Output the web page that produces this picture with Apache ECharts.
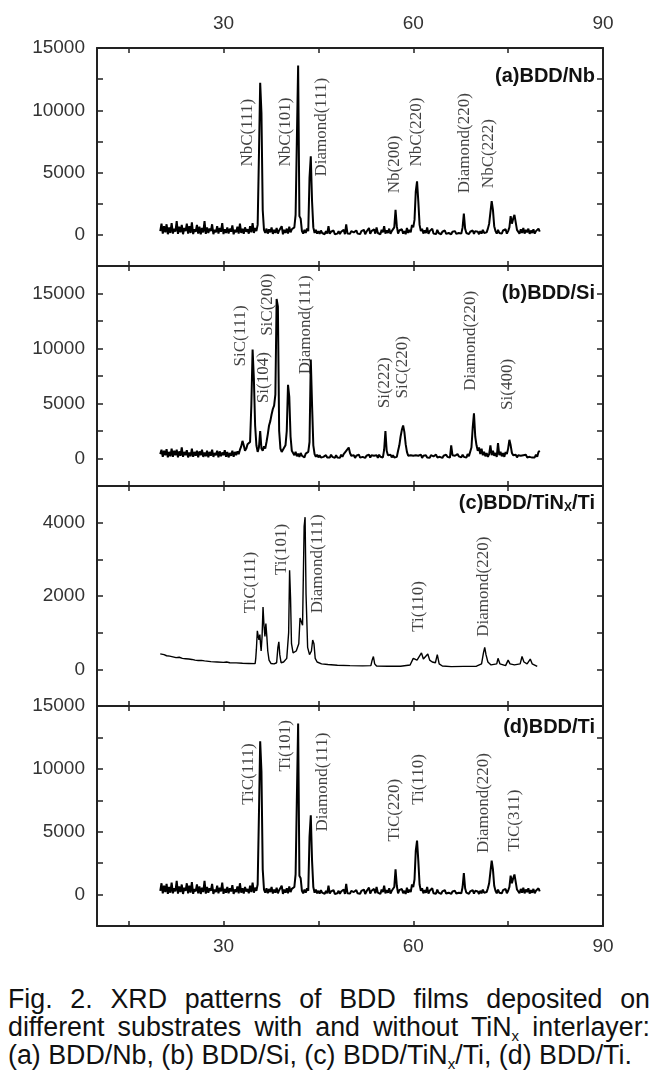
<!DOCTYPE html>
<html>
<head>
<meta charset="utf-8">
<script src="https://cdn.jsdelivr.net/npm/echarts@6/dist/echarts.min.js"></script>
<style>
html,body{margin:0;padding:0;background:#fff;width:657px;height:1076px;overflow:hidden}
#chart{position:absolute;left:0;top:0;width:657px;height:965px}
#caption{position:absolute;left:8px;top:985px;width:642px;font-family:'Liberation Sans',Arial,sans-serif;font-size:26.8px;line-height:28px;color:#111}
#caption div{text-align:justify;text-align-last:justify;white-space:nowrap}
#caption div.last{text-align:left;text-align-last:left}
#caption sub{font-size:15px;line-height:0;vertical-align:-5px}
</style>
</head>
<body>
<div id="chart"></div>
<div id="caption">
<div>Fig. 2. XRD patterns of BDD films deposited on</div>
<div>different substrates with and without TiN<sub>x</sub> interlayer:</div>
<div class="last">(a) BDD/Nb, (b) BDD/Si, (c) BDD/TiN<sub>x</sub>/Ti, (d) BDD/Ti.</div>
</div>
<script>
// ---- measurement grid (2theta, degrees): 20.0 .. 80.0 in 0.2 deg steps ----
const scanStart = 20.0;
const scanStep = 0.2;

// ---- (a) BDD/Nb counts, one value per scan step ----
const countsNb = [
  300, 900, 100, 700, 200, 850, 50, 600, 150, 950,
  100, 500, 250, 1100, 80, 650, 200, 800, 50, 550,
  300, 900, 100, 700, 150, 1000, 60, 450, 250, 800,
  100, 650, 50, 550, 200, 1100, 80, 600, 150, 500,
  300, 850, 50, 400, 200, 700, 100, 550, 250, 950,
  60, 450, 150, 600, 100, 500, 250, 750, 50, 400,
  200, 650, 100, 900, 150, 500, 80, 600, 250, 450,
  100, 700, 200, 950, 150, 550, 300, 800, 6300, 12200,
  9800, 2000, 400, 150, 500, 100, 450, 200, 600, 80,
  400, 150, 550, 100, 350, 250, 700, 50, 400, 150,
  500, 100, 650, 200, 450, 300, 600, 1600, 7700, 13600,
  1500, 1300, 300, 100, 400, 150, 500, 300, 4600, 6300,
  2700, 600, 150, 400, 100, 300, 80, 350, 150, 250,
  50, 300, 100, 700, 80, 250, 150, 350, 50, 200,
  100, 300, 60, 250, 150, 400, 50, 850, 100, 250,
  80, 300, 150, 200, 50, 350, 100, 250, 60, 300,
  150, 400, 50, 250, 100, 550, 80, 300, 150, 450,
  100, 600, 150, 300, 50, 400, 200, 700, 100, 350,
  150, 500, 80, 300, 200, 600, 2000, 700, 100, 350,
  200, 450, 100, 300, 50, 550, 150, 400, 200, 800,
  600, 1200, 3500, 4300, 2700, 800, 300, 500, 100, 350,
  150, 600, 80, 300, 200, 500, 100, 250, 60, 400,
  150, 300, 50, 250, 100, 350, 80, 200, 150, 300,
  50, 250, 100, 300, 80, 200, 150, 300, 100, 600,
  1700, 500, 150, 300, 60, 250, 100, 350, 80, 300,
  150, 250, 50, 300, 100, 400, 150, 300, 200, 500,
  900, 1800, 2700, 2000, 700, 300, 100, 400, 150, 300,
  100, 350, 200, 450, 100, 300, 600, 1500, 900, 1300,
  1600, 1500, 400, 250, 100, 450, 150, 550, 100, 400,
  200, 500, 80, 350, 150, 450, 100, 300, 200, 500,
  250
];

// ---- (b) BDD/Si counts ----
const countsSi = [
  400, 800, 150, 700, 300, 850, 100, 600, 200, 900,
  150, 700, 300, 800, 100, 650, 250, 1000, 150, 600,
  300, 750, 100, 550, 200, 900, 150, 600, 250, 700,
  100, 650, 300, 800, 150, 550, 200, 700, 100, 600,
  250, 800, 150, 500, 300, 700, 100, 650, 200, 550,
  300, 750, 150, 600, 100, 500, 250, 700, 150, 600,
  300, 650, 400, 800, 1100, 1600, 1200, 700, 900, 1300,
  1300, 1500, 4800, 9900, 7300, 3000, 1200, 600, 1000, 2500,
  900, 700, 1100, 900, 1500, 2200, 3000, 3400, 4000, 4500,
  4800, 5800, 14500, 13800, 2500, 900, 600, 800, 700, 1200,
  2500, 6700, 5600, 2000, 700, 500, 300, 600, 200, 450,
  150, 500, 250, 400, 100, 450, 300, 600, 1500, 9000,
  4900, 1200, 400, 150, 350, 100, 300, 80, 250, 150,
  50, 300, 100, 250, 80, 350, 150, 200, 50, 300,
  100, 250, 60, 350, 150, 400, 250, 700, 600, 1000,
  500, 250, 100, 300, 50, 250, 150, 350, 80, 200,
  150, 300, 50, 250, 100, 350, 80, 300, 150, 250,
  100, 300, 50, 350, 150, 250, 100, 800, 2500, 700,
  300, 150, 350, 100, 300, 80, 250, 150, 700, 1200,
  2000, 2600, 3000, 2400, 1300, 600, 250, 100, 300, 150,
  250, 80, 300, 150, 250, 100, 350, 50, 250, 150,
  300, 100, 250, 60, 300, 150, 200, 80, 350, 100,
  250, 150, 300, 50, 250, 100, 350, 150, 200, 80,
  1200, 300, 150, 250, 100, 400, 200, 300, 100, 350,
  150, 300, 80, 400, 200, 300, 1000, 2800, 4100, 2000,
  1200, 700, 1000, 400, 900, 300, 600, 200, 500, 150,
  400, 1200, 300, 700, 250, 500, 150, 1400, 300, 600,
  200, 500, 150, 600, 400, 900, 1700, 1200, 500, 300,
  150, 350, 100, 300, 200, 250, 80, 300, 150, 350,
  100, 250, 150, 300, 80, 250, 100, 350, 150, 600,
  700
];

// ---- (c) BDD/TiNx/Ti: [2theta, counts] ----
const pointsTiNx = [
  [20.0, 420], [20.3, 380], [20.6, 400], [21.0, 370], [21.5, 360], [22.0, 340], [22.5, 320],
  [23.0, 330], [23.5, 300], [24.0, 290], [24.5, 280], [25.0, 270], [25.5, 250], [26.0, 240],
  [26.5, 245], [27.0, 230], [28.0, 210], [29.0, 200], [30.0, 190], [30.5, 200], [31.0, 180],
  [32.0, 175], [33.0, 165], [34.0, 160], [35.0, 155], [35.1, 300], [35.2, 550], [35.35, 1050],
  [35.5, 900], [35.6, 800], [35.75, 950], [35.85, 700], [35.95, 500], [36.1, 900], [36.25, 1700],
  [36.4, 1200], [36.55, 900], [36.7, 1250], [36.85, 900], [37.0, 500], [37.2, 250], [37.5, 160],
  [38.0, 150], [38.4, 180], [38.6, 600], [38.75, 750], [38.9, 400], [39.1, 180], [39.5, 200],
  [40.0, 300], [40.3, 1000], [40.45, 2700], [40.6, 1950], [40.75, 700], [41.0, 450], [41.5, 500],
  [41.9, 700], [42.1, 1400], [42.3, 1300], [42.5, 1200], [42.75, 3900], [42.9, 4150], [43.05, 2050],
  [43.3, 600], [43.6, 400], [43.9, 500], [44.1, 800], [44.3, 700], [44.5, 300], [44.8, 200],
  [45.5, 150], [46.5, 130], [48.0, 110], [50.0, 100], [52.0, 95], [53.3, 100], [53.5, 250],
  [53.7, 350], [53.9, 150], [54.2, 90], [56.0, 85], [58.0, 85], [59.5, 120], [60.0, 300],
  [60.3, 350], [60.6, 250], [60.9, 300], [61.3, 450], [61.6, 280], [61.9, 250], [62.3, 420],
  [62.6, 250], [63.0, 200], [63.5, 180], [63.8, 400], [64.1, 150], [64.6, 90], [66.0, 75],
  [68.0, 80], [70.0, 85], [70.8, 150], [71.1, 450], [71.3, 600], [71.5, 400], [71.8, 200],
  [72.3, 120], [73.2, 150], [73.4, 300], [73.7, 150], [74.6, 100], [75.0, 250], [75.3, 150],
  [76.0, 120], [76.9, 150], [77.2, 350], [77.5, 200], [78.0, 150], [78.5, 280], [78.8, 150],
  [79.6, 80]
];

// ---- (d) BDD/Ti: the source figure shows the same trace as (a) ----
const countsTi = countsNb.slice();

// ---- peak labels: [text, 2theta, counts at start of the rotated label] ----
const peaksNb = [
  ['NbC(111)', 33.8, 5480], ['NbC(101)', 39.85, 5480], ['Diamond(111)', 45.5, 4680],
  ['Nb(200)', 57.0, 3340], ['NbC(220)', 60.5, 5480], ['Diamond(220)', 68.1, 3340],
  ['NbC(222)', 71.9, 3750]
];
const peaksSi = [
  ['SiC(111)', 32.7, 8360], ['Si(104)', 36.35, 5030], ['SiC(200)', 36.9, 11150],
  ['Diamond(111)', 42.95, 7660], ['Si(222)', 55.5, 4570], ['SiC(220)', 58.3, 5450],
  ['Diamond(220)', 69.1, 6150], ['Si(400)', 74.9, 4420]
];
const peaksTiNx = [
  ['TiC(111)', 34.2, 1530], ['Ti(101)', 39.1, 2570], ['Diamond(111)', 44.8, 1530],
  ['Ti(110)', 60.8, 1025], ['Diamond(220)', 71.1, 890]
];
const peaksTi = [
  ['TiC(111)', 34.0, 7140], ['Ti(101)', 39.85, 9790], ['Diamond(111)', 45.6, 5020],
  ['TiC(220)', 57.0, 4220], ['Ti(110)', 60.8, 7140], ['Diamond(220)', 71.1, 3300],
  ['TiC(311)', 76.0, 3420]
];

// ---- axes ----
const xTickValues = [15, 30, 45, 60, 75];
const xLabelValues = [30, 60, 90];
const yRanges = [   // [min, max, tick interval, label step]
  [-2500, 15000, 2500, 5000],
  [-2500, 17500, 2500, 5000],
  [-1000, 5000, 1000, 2000],
  [-2500, 15000, 2500, 5000]
];
const panelTitles = [
  '{t|(a)BDD/Nb}',
  '{t|(b)BDD/Si}',
  '{t|(c)BDD/TiN}{s|X}{t|/Ti}',
  '{t|(d)BDD/Ti}'
];

// ---- build option ----
const toScan = arr => arr.map((v, i) => [+(scanStart + i * scanStep).toFixed(1), v]);
const traces = [toScan(countsNb), toScan(countsSi), pointsTiNx, toScan(countsTi)];
const peakSets = [peaksNb, peaksSi, peaksTiNx, peaksTi];

const gridTops = [48, 266, 486, 706];
const gridHeights = [218, 220, 220, 220];
const titleTops = [65, 282, 492, 716];
const axisColor = '#222';
const labelColor = '#333';
const sansFont = "'Liberation Sans', Arial, sans-serif";
const serifFont = "'Liberation Serif', 'Times New Roman', serif";

const grid = [], xAxis = [], yAxis = [], series = [], title = [];
for (let i = 0; i < 4; i++) {
  grid.push({ left: 97, width: 506, top: gridTops[i], height: gridHeights[i] });
  ['bottom', 'top'].forEach(pos => {
    const showLbl = (i === 0 && pos === 'top') || (i === 3 && pos === 'bottom');
    xAxis.push({
      type: 'value', gridIndex: i, position: pos, min: 10, max: 90,
      axisLine: { show: true, onZero: false, lineStyle: { color: axisColor, width: 2 } },
      axisTick: { show: true, inside: true, length: 5, customValues: xTickValues,
                  lineStyle: { color: axisColor, width: 1.5 } },
      axisLabel: { show: showLbl, customValues: xLabelValues, margin: pos === 'top' ? 15 : 11,
                   fontFamily: sansFont, fontSize: 19, color: labelColor },
      splitLine: { show: false }
    });
  });
  const [mn, mx, iv, ls] = yRanges[i];
  ['left', 'right'].forEach(pos => {
    yAxis.push({
      type: 'value', gridIndex: i, position: pos, min: mn, max: mx, interval: iv,
      axisLine: { show: true, onZero: false, lineStyle: { color: axisColor, width: 2 } },
      axisTick: { show: true, inside: true, length: 6, lineStyle: { color: axisColor, width: 1.5 } },
      axisLabel: { show: pos === 'left', margin: 12, fontFamily: sansFont, fontSize: 19, color: labelColor,
                   showMinLabel: true, showMaxLabel: true,
                   formatter: v => (v >= 0 && v % ls === 0) ? String(v) : '' },
      splitLine: { show: false }
    });
  });
  series.push({
    type: 'line', xAxisIndex: 2 * i, yAxisIndex: 2 * i, data: traces[i],
    showSymbol: false, symbol: 'none', animation: false,
    lineStyle: { color: '#000', width: i === 2 ? 1.4 : 2 }
  });
  series.push({
    type: 'scatter', xAxisIndex: 2 * i, yAxisIndex: 2 * i, animation: false,
    symbolSize: 1, itemStyle: { color: 'rgba(0,0,0,0)' },
    data: peakSets[i].map(p => ({ name: p[0], value: [p[1], p[2]] })),
    label: { show: true, position: 'inside', rotate: 90, align: 'left', verticalAlign: 'middle',
             formatter: p => p.name, fontFamily: serifFont, fontSize: 17, color: '#111' }
  });
  title.push({
    text: panelTitles[i], right: 62, top: titleTops[i], padding: 0,
    textStyle: { rich: {
      t: { fontFamily: sansFont, fontSize: 20, fontWeight: 'bold', color: '#111', lineHeight: 22 },
      s: { fontFamily: sansFont, fontSize: 12, fontWeight: 'bold', color: '#111', lineHeight: 22, padding: [10, 0, 0, 0] }
    } }
  });
}

const chart = echarts.init(document.getElementById('chart'), null, { renderer: 'canvas' });
chart.setOption({ backgroundColor: '#fff', animation: false, title, grid, xAxis, yAxis, series });
</script>
</body>
</html>
